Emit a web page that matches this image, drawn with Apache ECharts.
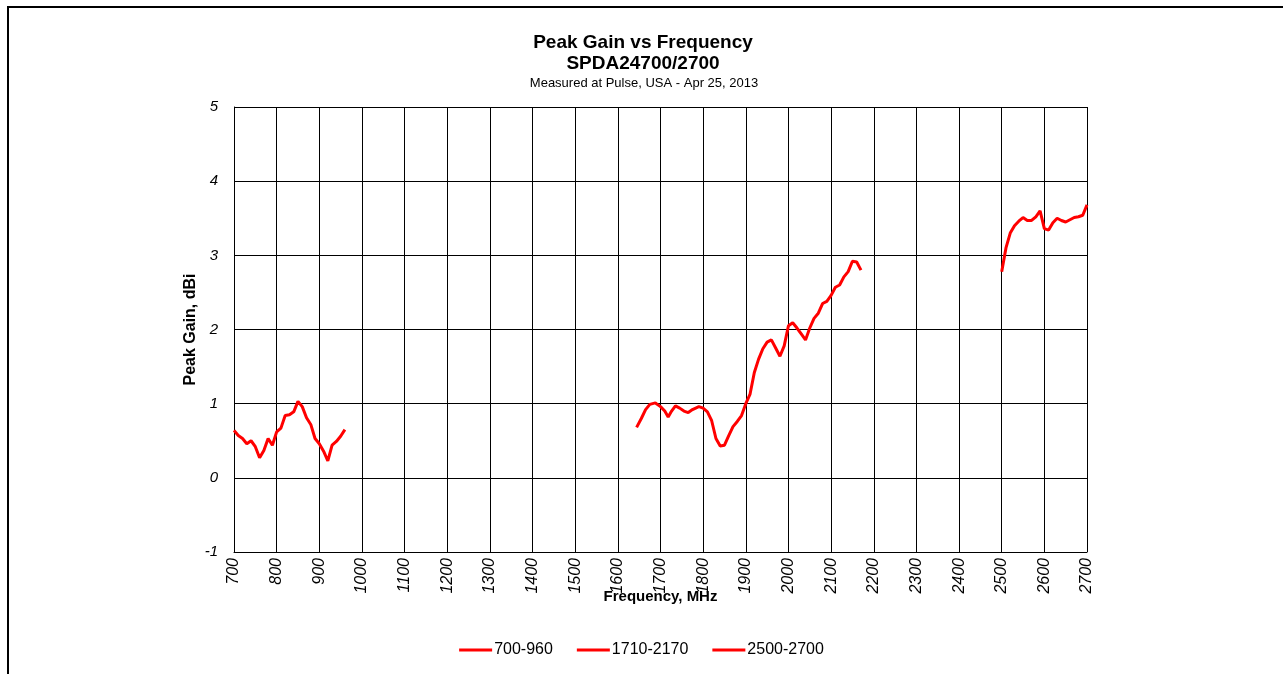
<!DOCTYPE html>
<html lang="en">
<head>
    <meta charset="UTF-8">
    <title>Peak Gain vs Frequency</title>
    <script src="https://cdn.jsdelivr.net/npm/echarts@6/dist/echarts.min.js"></script>
    <style>
        html, body { margin: 0; padding: 0; background: #fff; }
    </style>
</head>
<body>
<div id="chart" style="width: 1283px; height: 674px"></div>
<script>
    // frequency (MHz) and peak gain (dBi)
    var freqLow = [700, 710, 720, 730, 740, 750, 760, 770, 780, 790, 800, 810, 820, 830, 840, 850, 860, 870, 880, 890, 900, 910, 920, 930, 940, 950, 960];
    var gainLow = [0.64, 0.57, 0.53, 0.46, 0.50, 0.42, 0.27, 0.37, 0.53, 0.44, 0.62, 0.67, 0.84, 0.85, 0.89, 1.03, 0.96, 0.81, 0.72, 0.53, 0.46, 0.36, 0.23, 0.44, 0.49, 0.56, 0.65];

    var freqMid = [1644, 1655, 1665, 1675, 1688, 1700, 1710, 1718, 1726, 1735, 1745, 1755, 1765, 1775, 1790, 1800, 1810, 1820, 1830, 1840, 1850, 1860, 1870, 1880, 1890, 1900, 1910, 1920, 1930, 1940, 1950, 1960, 1970, 1980, 1990, 2000, 2010, 2020, 2030, 2040, 2050, 2060, 2070, 2080, 2090, 2100, 2110, 2120, 2130, 2140, 2150, 2160, 2170];
    var gainMid = [0.68, 0.80, 0.92, 0.99, 1.01, 0.96, 0.90, 0.82, 0.90, 0.97, 0.94, 0.90, 0.88, 0.92, 0.96, 0.94, 0.89, 0.77, 0.53, 0.43, 0.44, 0.57, 0.69, 0.76, 0.84, 1.00, 1.13, 1.42, 1.60, 1.74, 1.83, 1.86, 1.75, 1.64, 1.78, 2.05, 2.09, 2.02, 1.94, 1.86, 2.02, 2.15, 2.22, 2.35, 2.38, 2.46, 2.57, 2.60, 2.71, 2.78, 2.92, 2.91, 2.80];

    var freqHigh = [2500, 2510, 2520, 2530, 2540, 2550, 2560, 2570, 2580, 2590, 2600, 2610, 2620, 2630, 2640, 2650, 2660, 2670, 2680, 2690, 2700];
    var gainHigh = [2.78, 3.10, 3.30, 3.40, 3.46, 3.51, 3.47, 3.47, 3.52, 3.60, 3.36, 3.34, 3.44, 3.50, 3.47, 3.45, 3.48, 3.51, 3.52, 3.54, 3.68];

    var seriesNames = ['700-960', '1710-2170', '2500-2700'];

    function pairs(xs, ys) {
        return xs.map(function (x, i) { return [x, ys[i]]; });
    }

    var font = 'Arial, "Liberation Sans", sans-serif';
    var chart = echarts.init(document.getElementById('chart'));

    function lineSeries(name, xs, ys) {
        return {
            name: name,
            type: 'line',
            data: pairs(xs, ys),
            showSymbol: false,
            symbol: 'none',
            lineStyle: { color: '#ff0000', width: 3 },
            itemStyle: { color: '#ff0000' }
        };
    }

    var option = {
        animation: false,
        backgroundColor: '#fff',
        title: [
            {
                text: 'Peak Gain vs Frequency\nSPDA24700/2700',
                left: 638, top: 27, textAlign: 'center',
                textStyle: { fontFamily: font, fontSize: 19, fontWeight: 'bold', color: '#000', lineHeight: 21 }
            },
            {
                text: 'Measured at Pulse, USA - Apr 25, 2013',
                left: 639, top: 72, textAlign: 'center',
                textStyle: { fontFamily: font, fontSize: 13, fontWeight: 'normal', color: '#000' }
            }
        ],
        legend: {
            data: seriesNames,
            left: 'center', top: 637,
            itemWidth: 33, itemHeight: 3, itemGap: 24,
            icon: 'rect',
            textStyle: { fontFamily: font, fontSize: 16, color: '#000', padding: [0, 0, 0, -3] }
        },
        grid: { left: 234, right: 196, top: 107, bottom: 122 },
        xAxis: {
            type: 'value',
            min: 700, max: 2700, interval: 100,
            name: 'Frequency, MHz',
            nameLocation: 'middle', nameGap: 37, nameMoveOverlap: false,
            nameTextStyle: { fontFamily: font, fontSize: 15, fontWeight: 'bold', color: '#000' },
            axisLine: { onZero: false, lineStyle: { color: '#000', width: 1 } },
            axisTick: { show: false },
            axisLabel: {
                rotate: 90, fontFamily: font, fontSize: 16, fontStyle: 'italic', color: '#000', margin: 6,
                formatter: function (v) { return String(v); }
            },
            splitLine: { show: true, lineStyle: { color: '#000', width: 1 } }
        },
        yAxis: {
            type: 'value',
            min: -1, max: 5, interval: 1,
            name: 'Peak Gain, dBi',
            nameLocation: 'middle', nameGap: 35, nameMoveOverlap: false,
            nameTextStyle: { fontFamily: font, fontSize: 16, fontWeight: 'bold', color: '#000' },
            axisLine: { show: true, lineStyle: { color: '#000', width: 1 } },
            axisTick: { show: false },
            axisLabel: { fontFamily: font, fontSize: 15, fontStyle: 'italic', color: '#000', margin: 16 },
            splitLine: { show: true, lineStyle: { color: '#000', width: 1 } }
        },
        graphic: [
            { type: 'line', shape: { x1: 7, y1: 7, x2: 1283, y2: 7 }, style: { stroke: '#000', lineWidth: 2 } },
            { type: 'line', shape: { x1: 8, y1: 7, x2: 8, y2: 674 }, style: { stroke: '#000', lineWidth: 2 } }
        ],
        series: [
            lineSeries(seriesNames[0], freqLow, gainLow),
            lineSeries(seriesNames[1], freqMid, gainMid),
            lineSeries(seriesNames[2], freqHigh, gainHigh)
        ]
    };
    chart.setOption(option);
</script>
</body>
</html>
